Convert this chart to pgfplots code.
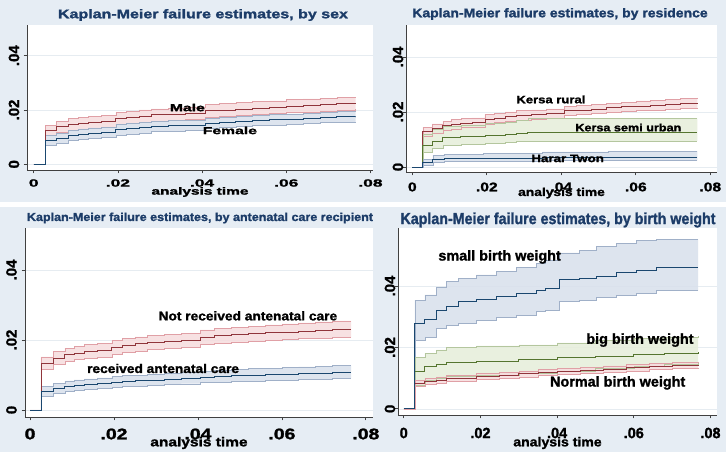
\documentclass[border=0pt]{standalone}
\usepackage{fontspec}
\setmainfont{Liberation Sans}
\newfontfamily\heavy{Liberation Sans Bold}[FakeBold=1.4]
\usepackage{graphicx}
\usepackage{pgfplots}
\usepackage{pgfplotstable}
\usepgfplotslibrary{fillbetween}
\pgfplotsset{compat=1.18}
\pgfdeclarelayer{axis background}
\pgfdeclarelayer{axis grid}
\pgfdeclarelayer{axis ticks}
\pgfdeclarelayer{axis lines}
\pgfdeclarelayer{axis tick labels}
\pgfdeclarelayer{pre main}
\pgfdeclarelayer{axis descriptions}
\pgfdeclarelayer{axis foreground}

\definecolor{bgc}{RGB}{230,237,244}
\definecolor{ttl}{RGB}{28,60,104}
\definecolor{navyc}{RGB}{26,71,111}
\definecolor{maroonc}{RGB}{144,53,59}
\definecolor{greenc}{RGB}{85,117,47}
\definecolor{navyf}{RGB}{216,224,236}
\definecolor{maroonf}{RGB}{246,220,222}
\definecolor{greenf}{RGB}{230,238,218}
\definecolor{navyl}{RGB}{160,176,200}
\definecolor{maroonl}{RGB}{224,160,166}
\definecolor{greenl}{RGB}{180,198,158}
\definecolor{gridc}{RGB}{230,236,241}

\newcommand{\T}[3]{{\fontsize{#1bp}{#1bp}\heavy\scalebox{#2}[1]{#3}}}
\newcommand{\band}[4]{%
  \addplot[const plot, draw=#3, line width=0.5pt, name path=#4u] table[x=t,y=hi]{#1};
  \addplot[const plot, draw=#3, line width=0.5pt, name path=#4l] table[x=t,y=lo]{#1};
  \addplot[fill=#2, fill opacity=0.85, draw=none] fill between[of=#4u and #4l];
}

\pgfplotsset{
  km/.style={
    set layers,
    scale only axis, anchor=south west,
    scaled ticks=false,
    axis x line*=bottom, axis y line*=left,
    axis line style={draw=black!75, line width=0.8pt},
    tick style={draw=black!75, line width=0.8pt},
    tick align=outside, major tick length=3.5bp,
    xtick={0,0.02,0.04,0.06,0.08}, ytick={0,0.02,0.04},
    yticklabels={0,.02,.04},
    ymajorgrids, grid style={gridc, line width=0.6pt},
    axis background/.style={fill=white},
    xticklabel style={anchor=center},
    xlabel style={at={(axis description cs:0.5,0)}, anchor=center},
  },
  xtl/.style 2 args={xticklabels={\T{#1}{#2}{0},\T{#1}{#2}{.02},\T{#1}{#2}{.04},\T{#1}{#2}{.06},\T{#1}{#2}{.08}}},
  ytl/.style={yticklabel style={xshift=#1, rotate=90, anchor=center, font=\fontsize{14.9bp}{15bp}\heavy}},
}

% ---- Panel 1: sex ----
\pgfplotstableread{
t est lo hi
0 0 0 0
0.0028 .0124 .0107 .0143
0.0054 .0138 .0118 .0158
0.0082 .0147 .0126 .0168
0.0105 .0151 .0130 .0172
0.013 .0155 .0133 .0177
0.016 .0158 .0136 .0180
0.0195 .0168 .0146 .0190
0.022 .0173 .0151 .0195
0.025 .0177 .0155 .0200
0.028 .0182 .0159 .0204
0.032 .0185 .0162 .0207
0.036 .0188 .0165 .0211
0.0408 .0197 .0174 .0220
0.044 .0200 .0177 .0223
0.048 .0204 .0180 .0227
0.052 .0207 .0183 .0231
0.056 .0211 .0187 .0234
0.060 .0214 .0190 .0238
0.064 .0217 .0193 .0241
0.068 .0220 .0196 .0244
0.072 .0223 .0200 .0247
0.0765 .0224 .0205 .0247
}\tbmale
\pgfplotstableread{
t est lo hi
0 0 0 0
0.0028 .0088 .0071 .0106
0.0054 .0097 .0079 .0115
0.0082 .0106 .0088 .0125
0.0105 .0111 .0093 .0130
0.013 .0115 .0097 .0134
0.016 .0118 .0100 .0137
0.0195 .0127 .0108 .0146
0.022 .0131 .0112 .0150
0.025 .0135 .0116 .0154
0.028 .0139 .0120 .0158
0.032 .0142 .0123 .0161
0.036 .0145 .0126 .0164
0.0408 .0152 .0133 .0171
0.044 .0155 .0136 .0174
0.048 .0158 .0139 .0177
0.052 .0161 .0142 .0180
0.056 .0164 .0145 .0183
0.060 .0167 .0148 .0186
0.064 .0170 .0151 .0189
0.068 .0172 .0153 .0191
0.072 .0175 .0156 .0194
0.0765 .0176 .0157 .0195
}\tbfemale
% ---- Panel 2: residence ----
\pgfplotstableread{
t est lo hi
0 0 0 0
0.0028 .0128 .0113 .0145
0.0054 .0140 .0124 .0157
0.0082 .0150 .0134 .0167
0.0105 .0155 .0139 .0172
0.013 .0159 .0143 .0176
0.016 .0162 .0146 .0179
0.0195 .0173 .0156 .0190
0.022 .0178 .0161 .0195
0.025 .0183 .0166 .0200
0.028 .0188 .0171 .0205
0.032 .0191 .0174 .0208
0.036 .0194 .0177 .0211
0.0408 .0204 .0187 .0221
0.044 .0207 .0190 .0224
0.048 .0211 .0194 .0228
0.052 .0215 .0198 .0232
0.056 .0219 .0202 .0236
0.060 .0222 .0205 .0240
0.064 .0225 .0208 .0243
0.068 .0228 .0211 .0246
0.072 .0232 .0215 .0250
0.0765 .0233 .0216 .0252
}\tbrural
\pgfplotstableread{
t est lo hi
0 0 0 0
0.0028 .0078 .0054 .0118
0.0054 .0094 .0070 .0136
0.0082 .0106 .0080 .0148
0.013 .0110 .0083 .0153
0.0195 .0114 .0086 .0158
0.025 .0118 .0089 .0163
0.028 .0122 .0092 .0170
0.031 .0125 .0095 .0176
0.0765 .0125 .0095 .0176
}\tbsemi
\pgfplotstableread{
t est lo hi
0 0 0 0
0.0028 .0016 .0008 .0029
0.0055 .0027 .0017 .0042
0.0085 .0031 .0020 .0047
0.019 .0033 .0022 .0050
0.035 .0035 .0023 .0055
0.0525 .0036 .0024 .0058
0.0765 .0036 .0024 .0058
}\tbharar
% ---- Panel 3: antenatal care ----
\pgfplotstableread{
t est lo hi
0 0 0 0
0.0026 .0133 .0116 .0152
0.0055 .0148 .0130 .0167
0.0083 .0158 .0139 .0177
0.0105 .0163 .0144 .0182
0.013 .0167 .0148 .0187
0.016 .0170 .0151 .0190
0.0195 .0180 .0160 .0200
0.022 .0185 .0165 .0205
0.025 .0189 .0169 .0209
0.028 .0193 .0173 .0213
0.032 .0196 .0176 .0216
0.036 .0199 .0179 .0219
0.0405 .0208 .0187 .0229
0.044 .0212 .0191 .0233
0.048 .0215 .0194 .0236
0.052 .0218 .0197 .0240
0.056 .0221 .0199 .0243
0.060 .0223 .0201 .0246
0.064 .0226 .0204 .0249
0.068 .0228 .0206 .0252
0.072 .0230 .0208 .0255
0.0765 .0230 .0208 .0255
}\tbnotrec
\pgfplotstableread{
t est lo hi
0 0 0 0
0.0026 .0052 .0040 .0067
0.0055 .0061 .0048 .0076
0.0083 .0068 .0054 .0083
0.0105 .0071 .0057 .0086
0.013 .0074 .0060 .0089
0.016 .0076 .0062 .0092
0.0195 .0080 .0065 .0096
0.022 .0082 .0067 .0098
0.025 .0084 .0069 .0100
0.028 .0086 .0071 .0102
0.032 .0088 .0073 .0105
0.036 .0091 .0075 .0108
0.0405 .0094 .0078 .0111
0.044 .0096 .0080 .0114
0.048 .0098 .0082 .0116
0.052 .0100 .0083 .0118
0.056 .0101 .0084 .0120
0.060 .0102 .0085 .0121
0.064 .0104 .0087 .0123
0.068 .0105 .0088 .0125
0.072 .0107 .0090 .0127
0.0765 .0107 .0090 .0127
}\tbrec
% ---- Panel 4: birth weight ----
\pgfplotstableread{
t est lo hi
0 0 0 0
0.0029 .0279 .0222 .0354
0.0055 .0292 .0233 .0371
0.0085 .0320 .0262 .0396
0.0111 .0335 .0273 .0414
0.0142 .0350 .0279 .0425
0.0190 .0358 .0289 .0436
0.0242 .0365 .0298 .0447
0.0294 .0376 .0306 .0461
0.0346 .0387 .0317 .0474
0.0370 .0392 .0320 .0485
0.0405 .0420 .0349 .0508
0.0459 .0425 .0354 .0517
0.0503 .0433 .0363 .0528
0.0555 .0443 .0371 .0539
0.0607 .0452 .0378 .0548
0.0659 .0461 .0385 .0552
0.0768 .0461 .0385 .0552
}\tbsmall
\pgfplotstableread{
t est lo hi
0 0 0 0
0.0029 .0121 .0078 .0168
0.0055 .0137 .0092 .0181
0.0085 .0146 .0101 .0192
0.0111 .0150 .0105 .0200
0.019 .0155 .0110 .0205
0.030 .0160 .0115 .0208
0.040 .0168 .0124 .0215
0.050 .0172 .0131 .0222
0.060 .0177 .0138 .0229
0.068 .0181 .0144 .0234
0.0768 .0184 .0149 .0237
}\tbbig
\pgfplotstableread{
t est lo hi
0 0 0 0
0.0029 .0083 .0074 .0093
0.0055 .0089 .0080 .0099
0.0085 .0094 .0085 .0104
0.0111 .0098 .0089 .0108
0.019 .0105 .0096 .0115
0.025 .0110 .0100 .0120
0.030 .0114 .0104 .0124
0.035 .0118 .0108 .0128
0.040 .0122 .0112 .0132
0.046 .0126 .0116 .0136
0.052 .0130 .0120 .0140
0.058 .0134 .0124 .0144
0.064 .0138 .0128 .0148
0.070 .0141 .0131 .0151
0.0768 .0143 .0133 .0153
}\tbnormal

\begin{document}
\begin{tikzpicture}
\pgfsetlayers{axis background,axis grid,axis ticks,axis lines,axis tick labels,pre main,main,axis descriptions,axis foreground}
\begin{pgfonlayer}{axis background}
\fill[bgc] (0,0) rectangle (726bp,461bp);
\fill[white] (0,254bp) rectangle (726bp,259bp);
\fill[white] (0,0) rectangle (726bp,9bp);
\end{pgfonlayer}

% Panel 1
\begin{axis}[km, at={(27bp,291bp)}, width=346bp, height=145bp,
  xmin=-0.0016, xmax=0.0806, ymin=-0.0021, ymax=0.0513,
  xtl={10.5}{1.65}, xticklabel style={yshift=-9.5bp}, ytl=-9.5bp,
  xlabel={\T{10.3}{1.5}{analysis time}}, xlabel style={yshift=-22bp}]
  \band{\tbmale}{maroonf}{maroonl}{pm}
  \band{\tbfemale}{navyf}{navyl}{pf}
  \addplot[const plot, draw=maroonc, line width=0.8pt] table[x=t,y=est]{\tbmale};
  \addplot[const plot, draw=navyc, line width=0.8pt] table[x=t,y=est]{\tbfemale};
  \node[inner sep=0] at (axis cs:0.0365,0.0209) {\T{10.2}{1.54}{Male}};
  \node[inner sep=0] at (axis cs:0.0466,0.01245) {\T{10.2}{1.54}{Female}};
\end{axis}

% Panel 2
\begin{axis}[km, at={(406bp,289bp)}, width=311bp, height=147bp,
  xmin=-0.0017, xmax=0.0818, ymin=-0.0018, ymax=0.0516,
  xtl={12.6}{1.24}, xticklabel style={yshift=-11.5bp}, ytl=-4.5bp,
  xlabel={\T{11.5}{1.2}{analysis time}}, xlabel style={yshift=-21bp}]
  \band{\tbrural}{maroonf}{maroonl}{pr}
  \band{\tbsemi}{greenf}{greenl}{ps}
  \band{\tbharar}{navyf}{navyl}{ph}
  \addplot[const plot, draw=maroonc, line width=0.8pt] table[x=t,y=est]{\tbrural};
  \addplot[const plot, draw=greenc, line width=0.8pt] table[x=t,y=est]{\tbsemi};
  \addplot[const plot, draw=navyc, line width=0.8pt] table[x=t,y=est]{\tbharar};
  \node[inner sep=0] at (axis cs:0.0372,0.02455) {\T{10.7}{1.22}{Kersa rural}};
  \node[inner sep=0] at (axis cs:0.058,0.01436) {\T{10.7}{1.18}{Kersa semi urban}};
  \node[inner sep=0] at (axis cs:0.0417,0.0031) {\T{10.7}{1.25}{Harar Twon}};
\end{axis}

% Panel 3
\begin{axis}[km, at={(25bp,44bp)}, width=348bp, height=189bp,
  xmin=-0.0012, xmax=0.0817, ymin=-0.002, ymax=0.052,
  xtl={15.4}{1.26}, xticklabel style={yshift=-13.5bp}, ytl=-10bp,
  xlabel={\T{12.9}{1.2}{analysis time}}, xlabel style={yshift=-26bp}]
  \band{\tbnotrec}{maroonf}{maroonl}{pn}
  \band{\tbrec}{navyf}{navyl}{pc}
  \addplot[const plot, draw=maroonc, line width=0.8pt] table[x=t,y=est]{\tbnotrec};
  \addplot[const plot, draw=navyc, line width=0.8pt] table[x=t,y=est]{\tbrec};
  \node[inner sep=0] at (axis cs:0.0519,0.0269) {\T{12.6}{1.09}{Not received antenatal care}};
  \node[inner sep=0] at (axis cs:0.0317,0.01186) {\T{12.6}{1.09}{received antenatal care}};
\end{axis}

% Panel 4
\begin{axis}[km, at={(398bp,46bp)}, width=319bp, height=187bp,
  xmin=-0.0015, xmax=0.0817, ymin=-0.002, ymax=0.0589,
  xtl={14.9}{0.97}, xticklabel style={yshift=-14.5bp}, ytl=-4.5bp,
  xlabel={\T{12.9}{1.09}{analysis time}}, xlabel style={yshift=-28bp}]
  \band{\tbsmall}{navyf}{navyl}{psm}
  \band{\tbbig}{greenf}{greenl}{pbg}
  \band{\tbnormal}{maroonf}{maroonl}{pnm}
  \addplot[const plot, draw=maroonc, line width=0.8pt] table[x=t,y=est]{\tbnormal};
  \addplot[const plot, draw=greenc, line width=0.8pt] table[x=t,y=est]{\tbbig};
  \addplot[const plot, draw=navyc, line width=0.8pt] table[x=t,y=est]{\tbsmall};
  \node[inner sep=0] at (axis cs:0.025,0.0495) {\T{14.4}{1.0}{small birth weight}};
  \node[inner sep=0] at (axis cs:0.0616,0.0224) {\T{14.4}{1.0}{big birth weight}};
  \node[inner sep=0] at (axis cs:0.0558,0.00846) {\T{14.4}{1.0}{Normal birth weight}};
\end{axis}

% Titles
\node[ttl] at (203bp,446bp) {\T{12.6}{1.27}{Kaplan-Meier failure estimates, by sex}};
\node[ttl] at (560bp,447bp) {\T{12.6}{1.11}{Kaplan-Meier failure estimates, by residence}};
\node[ttl] at (200bp,243bp) {\T{11.6}{1.08}{Kaplan-Meier failure estimates, by antenatal care recipient}};
\node[ttl] at (558bp,241bp) {\T{16}{0.89}{Kaplan-Meier failure estimates, by birth weight}};
\end{tikzpicture}
\end{document}
